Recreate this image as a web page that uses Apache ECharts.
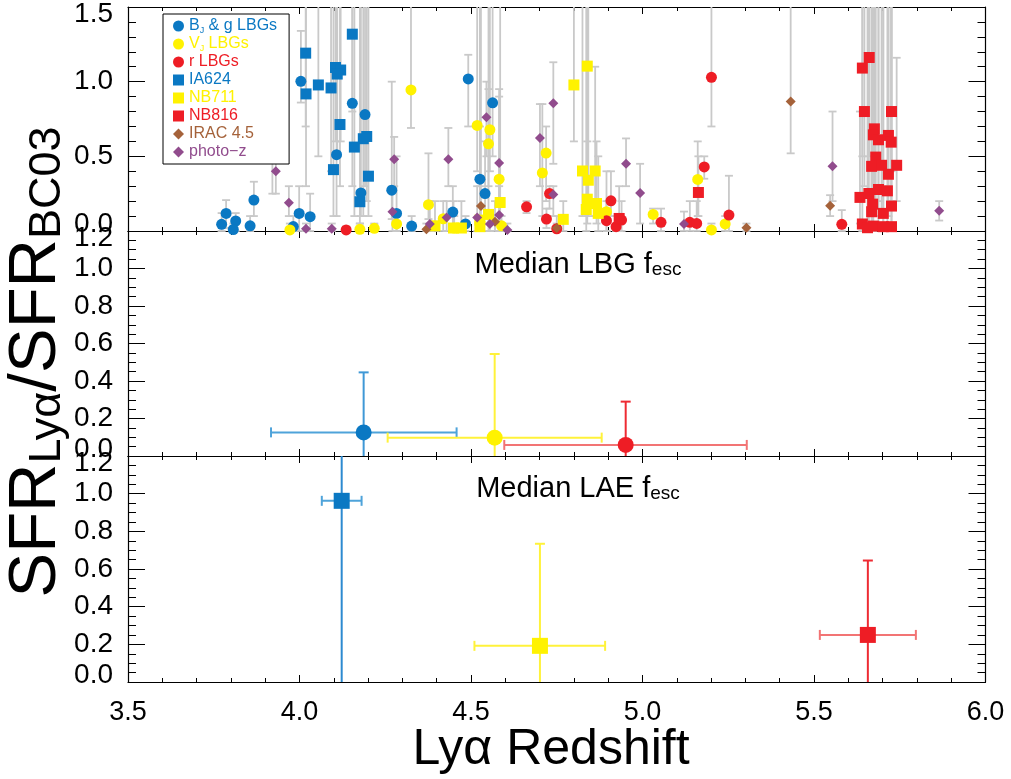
<!DOCTYPE html>
<html><head><meta charset="utf-8">
<script src="https://cdn.jsdelivr.net/npm/echarts@6/dist/echarts.min.js"></script>
<style>html,body{margin:0;padding:0;background:#fff}#c{width:1011px;height:779px}</style>
</head><body><div id="c"></div>
<script>
// ---------- DATA: [x (Lya redshift), y (SFR ratio), errLow, errHigh] ----------
const bjgLBG = [
 [3.773,0.045,0,0.12],[3.786,0.118,0.02,0.207],[3.814,0.067,0,0.12],[3.807,0.01,0,0.05],
 [3.856,0.035,0,0.1],[3.867,0.207,0.1,0.33],[3.921,0.522,0.25,0.66],[3.982,0.03,0,0.1],
 [3.999,0.118,0,0.3],[4.031,0.096,0,0.25],[4.004,1.002,0.86,1.34],[4.108,0.511,0.1,1.6],
 [4.154,0.855,0.3,1.6],[4.191,0.78,0.3,1.6],[4.179,0.255,0.1,1.6],[4.269,0.273,0.08,1.0],
 [4.283,0.118,0,0.5],[4.327,0.033,0,0.1],[4.492,1.018,0.7,1.18],[4.563,0.858,0.5,1.6],
 [4.526,0.347,0.1,0.7],[4.541,0.251,0.1,0.6],[4.447,0.127,0,0.3],[4.484,0.047,0,0.1]
];
const vjLBG = [
 [4.325,0.945,0.69,1.6],[4.283,0.047,0,0.1],[4.376,0.176,0.08,0.52],[3.972,0.007,0,0.05],
 [4.176,0.011,0,0.05],[4.218,0.018,0,0.05],[4.518,0.707,0.4,1.6],[4.555,0.678,0.4,1.6],
 [4.551,0.584,0.3,0.95],[4.582,0.347,0.1,0.95],[4.708,0.389,0.1,0.85],[4.719,0.522,0.2,0.7],
 [4.895,0.129,0,0.4],[4.589,0.035,0,0.1],[5.031,0.111,0.05,0.15],[4.419,0.082,0,0.2],
 [4.451,0.02,0,0.1],[5.161,0.345,0.1,0.6],[5.241,0.047,0,0.1],[5.201,0.007,0,0.05]
];
const rLBG = [
 [4.136,0.007,0,0.03],[4.662,0.162,0.12,0.2],[4.720,0.08,0.02,0.15],[4.729,0.251,0.15,0.3],
 [4.908,0.202,0.1,0.4],[4.895,0.069,0,0.2],[4.923,0.029,0,0.1],[4.939,0.073,0,0.2],
 [5.054,0.058,0,0.15],[5.138,0.058,0,0.2],[5.201,1.029,0.7,1.6],[5.180,0.429,0.35,0.5],
 [5.158,0.051,0,0.2],[5.252,0.107,0,0.37],[5.581,0.045,0,0.14],[4.750,0.015,0,0.05]
];
const ia624 = [
 [4.018,1.191,0.7,1.6],[4.019,0.918,0.3,1.6],[4.055,0.978,0.5,1.6],[4.092,0.958,0.4,1.6],
 [4.105,1.095,0.6,1.6],[4.120,1.078,0.6,1.6],[4.110,1.051,0.5,1.6],[4.154,1.318,0.8,1.6],
 [4.118,0.713,0.3,1.6],[4.160,0.562,0.1,1.6],[4.186,0.618,0.1,1.6],[4.196,0.633,0.2,1.6],
 [4.099,0.411,0.1,1.6],[4.201,0.367,0.1,1.6],[4.176,0.196,0.05,1.6]
];
const nb711 = [
 [4.800,0.978,0.6,1.6],[4.839,1.104,0.6,1.6],[4.585,0.191,0.05,1.6],[4.769,0.078,0,0.2],
 [4.825,0.402,0.1,1.6],[4.862,0.402,0.1,1.1],[4.842,0.34,0.1,1.6],[4.839,0.213,0.05,1.6],
 [4.866,0.184,0.05,0.6],[4.836,0.144,0,1.6],[4.871,0.118,0,0.5],[4.551,0.111,0,1.6],
 [4.526,0.073,0,1.6],[4.395,0.035,0,0.2],[4.449,0.02,0,0.2],[4.472,0.02,0,0.2],[4.526,0.029,0,0.3]
];
const nb816 = [
 [4.932,0.084,0,0.3],[5.163,0.258,0.1,0.5],[5.641,1.091,0.5,1.6],[5.661,1.162,0.5,1.6],
 [5.647,0.8,0.3,1.6],[5.726,0.8,0.4,1.6],[5.676,0.684,0.2,1.6],[5.673,0.644,0.2,1.6],
 [5.688,0.611,0.2,1.6],[5.717,0.64,0.3,1.6],[5.725,0.595,0.2,1.6],[5.680,0.495,0.1,1.6],
 [5.668,0.433,0.1,1.6],[5.697,0.44,0.1,1.6],[5.741,0.44,0.2,1.16],[5.717,0.38,0.1,1.6],
 [5.688,0.278,0.05,1.6],[5.714,0.269,0.05,1.6],[5.634,0.225,0.05,0.8],[5.660,0.251,0.05,1.6],
 [5.671,0.18,0,1.6],[5.726,0.167,0,1.6],[5.668,0.129,0,1.6],[5.702,0.118,0,1.6],
 [5.641,0.047,0,1.6],[5.673,0.033,0,1.6],[5.702,0.029,0,1.6],[5.726,0.029,0,1.6],[5.656,0.022,0,1.6]
];
const irac45 = [
 [4.529,0.167,0.1,1.6],[4.370,0.011,0,0.05],[4.570,0.062,0,0.2],[4.750,0.02,0,0.1],
 [5.432,0.867,0.52,1.6],[5.303,0.022,0,0.05],[5.547,0.169,0.1,0.24]
];
const photoz = [
 [3.931,0.4,0.25,0.55],[3.969,0.189,0.1,0.3],[4.019,0.015,0,0.05],[4.094,0.015,0,0.05],
 [4.276,0.48,0.3,0.63],[4.271,0.129,0,0.3],[4.380,0.047,0,0.2],[4.434,0.48,0.3,0.69],
 [4.429,0.091,0,0.2],[4.545,0.762,0.5,1.0],[4.582,0.455,0.2,0.9],[4.582,0.107,0,0.3],
 [4.518,0.091,0,0.3],[4.555,0.047,0,0.1],[4.606,0.007,0,0.05],[4.701,0.622,0.3,0.85],
 [4.740,0.855,0.45,1.13],[4.740,0.244,0.1,0.3],[4.952,0.451,0.3,0.62],[4.993,0.255,0.05,0.45],
 [5.121,0.047,0,0.13],[5.554,0.433,0.2,0.8],[5.865,0.135,0.07,0.2]
];
// medians: [x, y, xLow, xHigh, yLow, yHigh]
const medianLBG_BJ = [4.187,0.126,3.917,4.458,-0.2,0.446];
const medianLBG_VJ = [4.569,0.098,4.257,4.881,-0.2,0.544];
const medianLBG_r  = [4.951,0.059,4.597,5.304,-0.2,0.29];
const medianLAE_IA624 = [4.123,0.962,4.065,4.181,-0.2,1.5];
const medianLAE_NB711 = [4.701,0.192,4.510,4.891,-0.2,0.734];
const medianLAE_NB816 = [5.657,0.25,5.517,5.797,-0.2,0.645];
// axes
const xTicks = [3.5,4.0,4.5,5.0,5.5,6.0];
const panelYRange = [[0,1.5,0.5],[0,1.2,0.2],[0,1.2,0.2]];

// ---------- STYLE ----------
const FF = '"Liberation Sans", Arial, Helvetica, sans-serif';
const BLUE='#0a78c3', YEL='#fff200', RED='#ee1d25', BROWN='#a5623a', PURP='#914c8d', GREY='#c9c9c9';
const L=128, W=857.5;
const grids=[{left:L,top:6,width:W,height:225},{left:L,top:231,width:W,height:225},{left:L,top:456,width:W,height:226}];
const minorSplits=[5,4,4];

const xAxis=[], yAxis=[];
grids.forEach((g,i)=>{
  [['bottom',i===2],['top',false]].forEach(([pos,lab])=>{
    xAxis.push({gridIndex:i,type:'value',position:pos,min:xTicks[0],max:xTicks[xTicks.length-1],interval:0.5,
      axisLine:{show:true,onZero:false,lineStyle:{color:'#000',width:1.2}},
      axisTick:{show:true,inside:true,length:7,lineStyle:{color:'#000'}},
      minorTick:{show:true,splitNumber:5,length:4,lineStyle:{color:'#000'}},
      splitLine:{show:false},
      axisLabel:{show:lab,margin:17,fontSize:27,fontFamily:FF,color:'#000',showMinLabel:true,showMaxLabel:true,
        formatter:v=>v.toFixed(1)}});
  });
  const [mn,mx,iv]=panelYRange[i];
  [['left',true],['right',false]].forEach(([pos,lab])=>{
    yAxis.push({gridIndex:i,type:'value',position:pos,min:mn,max:mx,interval:iv,
      axisLine:{show:true,onZero:false,lineStyle:{color:'#000',width:1.2}},
      axisTick:{show:true,inside:true,length:17,lineStyle:{color:'#000'}},
      minorTick:{show:true,splitNumber:minorSplits[i],length:8,lineStyle:{color:'#000'}},
      splitLine:{show:false},
      axisLabel:{show:lab,margin:15,fontSize:28,lineHeight:14,fontFamily:FF,color:'#000',
        showMinLabel:true,showMaxLabel:true,hideOverlap:false,
        formatter:v=>v.toFixed(1),
        verticalAlignMaxLabel:'top',verticalAlignMinLabel:'bottom'}});
  });
});

function vErr(ymin,ymax,color,cap,lw){
  return function(params,api){
    const x=api.value(0); let lo=api.value(2), hi=api.value(3);
    const loC=lo<ymin, hiC=hi>ymax;
    lo=Math.max(lo,ymin); hi=Math.min(hi,ymax);
    const a=api.coord([x,lo]), b=api.coord([x,hi]);
    const st={stroke:color,lineWidth:lw};
    const ch=[{type:'line',shape:{x1:a[0],y1:a[1],x2:b[0],y2:b[1]},style:st}];
    if(!loC) ch.push({type:'line',shape:{x1:a[0]-cap/2,y1:a[1],x2:a[0]+cap/2,y2:a[1]},style:st});
    if(!hiC) ch.push({type:'line',shape:{x1:b[0]-cap/2,y1:b[1],x2:b[0]+cap/2,y2:b[1]},style:st});
    return {type:'group',children:ch};
  };
}
function xyErr(ymin,ymax,colY,colX,cap,lw){
  return function(params,api){
    const x=api.value(0), y=api.value(1), xl=api.value(2), xh=api.value(3);
    let lo=api.value(4), hi=api.value(5);
    const loC=lo<ymin, hiC=hi>ymax;
    lo=Math.max(lo,ymin); hi=Math.min(hi,ymax);
    const a=api.coord([x,lo]), b=api.coord([x,hi]), c=api.coord([xl,y]), d=api.coord([xh,y]);
    const sy={stroke:colY,lineWidth:lw}, sx={stroke:colX,lineWidth:lw};
    const ch=[
      {type:'line',shape:{x1:c[0],y1:c[1],x2:d[0],y2:d[1]},style:sx},
      {type:'line',shape:{x1:c[0],y1:c[1]-cap/2,x2:c[0],y2:c[1]+cap/2},style:sx},
      {type:'line',shape:{x1:d[0],y1:d[1]-cap/2,x2:d[0],y2:d[1]+cap/2},style:sx},
      {type:'line',shape:{x1:a[0],y1:a[1],x2:b[0],y2:b[1]},style:sy}];
    if(!loC) ch.push({type:'line',shape:{x1:a[0]-cap/2,y1:a[1],x2:a[0]+cap/2,y2:a[1]},style:sy});
    if(!hiC) ch.push({type:'line',shape:{x1:b[0]-cap/2,y1:b[1],x2:b[0]+cap/2,y2:b[1]},style:sy});
    return {type:'group',children:ch};
  };
}

const topSets=[
  {name:'B_J & g LBGs',data:bjgLBG,symbol:'circle',size:11,color:BLUE},
  {name:'V_J LBGs',data:vjLBG,symbol:'circle',size:11,color:YEL},
  {name:'r LBGs',data:rLBG,symbol:'circle',size:11,color:RED},
  {name:'IA624',data:ia624,symbol:'rect',size:11,color:BLUE},
  {name:'NB711',data:nb711,symbol:'rect',size:11,color:YEL},
  {name:'NB816',data:nb816,symbol:'rect',size:11,color:RED},
  {name:'IRAC 4.5',data:irac45,symbol:'diamond',size:10,color:BROWN},
  {name:'photo\u2212z',data:photoz,symbol:'diamond',size:10,color:PURP}
];
const series=[];
topSets.forEach(s=>{
  series.push({type:'custom',name:s.name+' err',xAxisIndex:0,yAxisIndex:0,silent:true,z:1,
    encode:{x:0,y:1},data:s.data,renderItem:vErr(0,1.5,GREY,8,1.8)});
});
topSets.forEach((s,k)=>{
  series.push({type:'scatter',name:s.name,xAxisIndex:0,yAxisIndex:0,z:3+k,symbol:s.symbol,symbolSize:s.size,
    itemStyle:{color:s.color,opacity:1},data:s.data.map(d=>[d[0],d[1]])});
});
const medSets=[
  {gi:1,data:medianLBG_BJ,symbol:'circle',colS:BLUE,colY:'#3f98d6',colX:'#4ea3da'},
  {gi:1,data:medianLBG_VJ,symbol:'circle',colS:YEL,colY:'#fff23a',colX:'#fff23a'},
  {gi:1,data:medianLBG_r,symbol:'circle',colS:RED,colY:'#ee2b33',colX:'#f27474'},
  {gi:2,data:medianLAE_IA624,symbol:'rect',colS:BLUE,colY:'#2c8ad0',colX:'#4ea3da'},
  {gi:2,data:medianLAE_NB711,symbol:'rect',colS:YEL,colY:'#fff23a',colX:'#fff23a'},
  {gi:2,data:medianLAE_NB816,symbol:'rect',colS:RED,colY:'#ee2b33',colX:'#f27474'}
];
medSets.forEach((m,k)=>{
  series.push({type:'custom',name:'med err '+k,xAxisIndex:2*m.gi,yAxisIndex:2*m.gi,silent:true,z:2,
    encode:{x:0,y:1},data:[m.data],renderItem:xyErr(0,1.2,m.colY,m.colX,10,2)});
  series.push({type:'scatter',name:'med '+k,xAxisIndex:2*m.gi,yAxisIndex:2*m.gi,z:5,symbol:m.symbol,symbolSize:16,
    itemStyle:{color:m.colS,opacity:1},data:[[m.data[0],m.data[1]]]});
});

const richLeg={
  b:{color:BLUE,fontSize:16,fontFamily:FF,lineHeight:18}, bs:{color:BLUE,fontSize:9,fontFamily:FF,lineHeight:9,verticalAlign:'bottom'},
  y:{color:YEL,fontSize:16,fontFamily:FF,lineHeight:18}, ys:{color:YEL,fontSize:9,fontFamily:FF,lineHeight:9,verticalAlign:'bottom'},
  r:{color:RED,fontSize:16,fontFamily:FF,lineHeight:18},
  o:{color:BROWN,fontSize:16,fontFamily:FF,lineHeight:18},
  p:{color:PURP,fontSize:16,fontFamily:FF,lineHeight:18}
};
const legFmt={
  'B_J & g LBGs':'{b|B}{bs|J}{b| & g LBGs}','V_J LBGs':'{y|V}{ys|J}{y| LBGs}','r LBGs':'{r|r LBGs}',
  'IA624':'{b|IA624}','NB711':'{y|NB711}','NB816':'{r|NB816}','IRAC 4.5':'{o|IRAC 4.5}','photo\u2212z':'{p|photo\u2212z}'
};

const option={
  animation:false,backgroundColor:'#fff',
  grid:grids, xAxis, yAxis, series,
  legend:{left:163,top:14,orient:'vertical',padding:[3,12,3,10],itemGap:0,itemWidth:11,itemHeight:11,itemTextGap:7,
    borderColor:'#000',borderWidth:1,borderRadius:0,backgroundColor:'#fff',selectedMode:false,
    textStyle:{fontFamily:FF,fontSize:16,lineHeight:18,rich:richLeg},
    formatter:n=>legFmt[n]||n,
    data:topSets.map(s=>({name:s.name,icon:s.symbol}))},
  graphic:[
    {type:'text',x:37,y:362,rotation:Math.PI/2,z:10,style:{text:'{m|SFR}{s|Ly\u03b1}{m|/SFR}{s|BC03}',align:'center',verticalAlign:'middle',
      rich:{m:{fontSize:67,fontFamily:FF,lineHeight:67,fill:'#000'},s:{fontSize:45,fontFamily:FF,lineHeight:38,verticalAlign:'bottom',fill:'#000'}}}},
    {type:'text',x:551,y:750,z:10,style:{text:'Ly\u03b1 Redshift',fontSize:50,fontFamily:FF,fill:'#000',align:'center',verticalAlign:'middle'}},
    {type:'text',x:578,y:265,z:10,style:{text:'{m|Median LBG f}{s|esc}',align:'center',verticalAlign:'middle',
      rich:{m:{fontSize:29,fontFamily:FF,lineHeight:29,fill:'#000'},s:{fontSize:19,fontFamily:FF,lineHeight:16,verticalAlign:'bottom',fill:'#000'}}}},
    {type:'text',x:578,y:489,z:10,style:{text:'{m|Median LAE f}{s|esc}',align:'center',verticalAlign:'middle',
      rich:{m:{fontSize:29,fontFamily:FF,lineHeight:29,fill:'#000'},s:{fontSize:19,fontFamily:FF,lineHeight:16,verticalAlign:'bottom',fill:'#000'}}}}
  ]
};
echarts.init(document.getElementById('c'),null,{renderer:'canvas'}).setOption(option);
</script></body></html>
